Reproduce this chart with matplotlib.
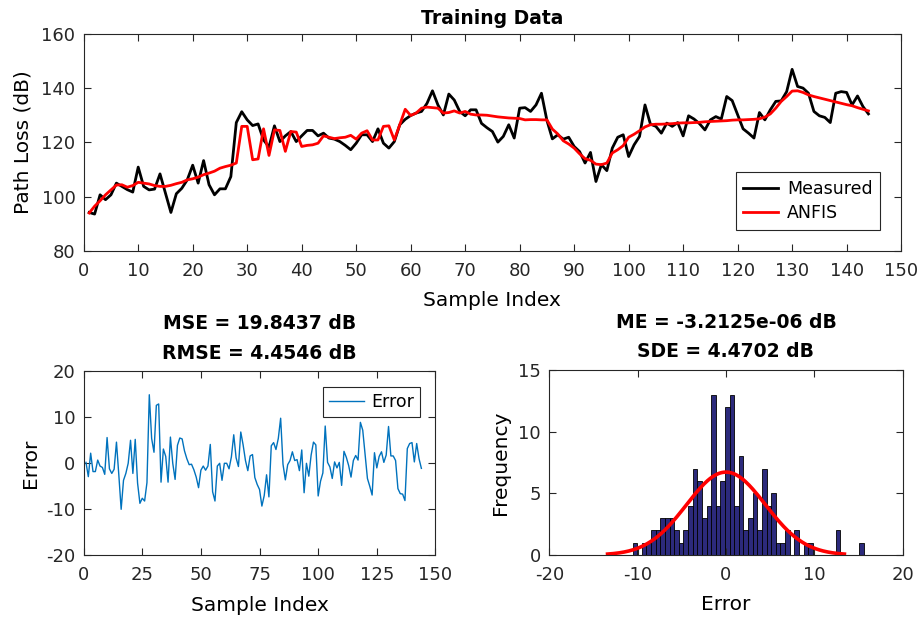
import numpy as np
import matplotlib
matplotlib.use('Agg')
import matplotlib.pyplot as plt

plt.rcParams['font.family'] = ['DejaVu Sans']
plt.rcParams['axes.unicode_minus'] = False
plt.rcParams['axes.edgecolor'] = '#262626'
plt.rcParams['xtick.color'] = '#262626'
plt.rcParams['ytick.color'] = '#262626'

# measured path loss and ANFIS output for the 144 training samples (dB)
measured = [94.2, 93.6, 100.7, 98.9, 100.7, 105.0, 103.8, 102.6, 101.7, 110.9,
            103.8, 102.5, 102.8, 108.4, 101.3, 94.2, 101.1, 103.1, 106.2, 111.6,
            105.0, 113.3, 104.4, 100.7, 102.9, 102.9, 107.4, 127.3, 131.3, 128.3,
            126.2, 126.8, 120.9, 118.3, 126.1, 120.3, 122.4, 124.0, 120.3, 122.4,
            124.4, 124.4, 122.4, 123.4, 121.6, 121.2, 120.3, 118.9, 117.3, 119.7,
            122.8, 122.8, 120.3, 125.0, 119.7, 117.9, 120.3, 126.5, 128.5, 129.9,
            130.8, 131.4, 134.4, 139.0, 133.8, 130.1, 137.8, 135.6, 131.4, 129.8,
            132.0, 132.0, 127.0, 125.4, 124.0, 120.1, 122.2, 126.5, 121.6, 132.6,
            132.8, 131.4, 133.8, 138.1, 128.1, 121.3, 122.8, 121.2, 121.9, 118.5,
            116.6, 112.4, 116.3, 105.6, 111.8, 109.6, 117.9, 121.9, 122.8, 114.8,
            119.1, 122.2, 133.8, 126.7, 125.9, 123.4, 127.1, 125.9, 127.3, 122.4,
            129.8, 128.6, 126.9, 124.6, 128.3, 129.5, 128.6, 136.9, 135.4, 130.2,
            125.0, 123.4, 121.6, 131.0, 128.3, 132.0, 135.1, 135.3, 138.7, 146.9,
            140.6, 140.0, 138.1, 131.4, 129.8, 129.2, 127.3, 138.1, 138.7, 138.4,
            133.8, 137.1, 133.2, 130.5]

anfis = [94.0, 96.5, 98.5, 100.7, 102.5, 104.3, 104.4, 103.5, 104.1, 105.3,
         105.0, 104.7, 104.1, 103.8, 103.8, 104.2, 104.8, 105.3, 106.2, 106.6,
         107.2, 108.1, 108.7, 109.4, 110.5, 111.1, 111.6, 112.4, 125.9, 125.9,
         113.6, 113.9, 125.0, 115.2, 124.6, 124.4, 116.7, 124.0, 123.8, 118.5,
         118.9, 119.1, 119.7, 122.4, 121.9, 121.4, 121.7, 121.9, 122.6, 121.2,
         123.4, 124.3, 120.9, 120.9, 125.9, 126.1, 120.9, 126.5, 132.2, 129.9,
         130.8, 132.6, 133.0, 132.8, 132.6, 130.8, 131.0, 131.6, 130.8, 131.4,
         130.4, 130.1, 130.1, 130.0, 129.7, 129.4, 129.2, 129.0, 128.9, 128.8,
         128.3, 128.4, 128.4, 128.3, 128.3, 124.9, 123.1, 120.6, 119.4, 117.9,
         115.8, 114.0, 113.4, 112.0, 111.8, 112.4, 116.1, 117.3, 118.8, 121.9,
         123.0, 124.3, 125.7, 126.5, 126.7, 126.7, 126.8, 126.9, 127.1, 127.2,
         127.2, 127.3, 127.4, 127.6, 127.7, 127.8, 127.9, 128.0, 128.2, 128.3,
         128.3, 128.4, 128.5, 128.7, 129.3, 130.5, 132.6, 135.1, 136.9, 138.9,
         139.0, 138.4, 137.5, 136.9, 136.4, 135.9, 135.4, 134.9, 134.4, 133.9,
         133.5, 132.8, 132.2, 131.6]

# error histogram: 50 bins
hist_start = -10.57
hist_width = 0.523
hist_counts = [1, 0, 1, 1, 2, 2, 3, 3, 3, 2,
               1, 2, 4, 7, 6, 3, 4, 13, 4, 6,
               12, 13, 4, 8, 2, 3, 5, 2, 7, 4,
               5, 1, 1, 2, 0, 2, 0, 1, 1, 0,
               0, 0, 0, 0, 2, 0, 0, 0, 0, 1]

err_mean = -3.2125e-06
err_std = 4.4702

measured = np.array(measured)
anfis = np.array(anfis)
idx = np.arange(1, len(measured) + 1)
err = measured - anfis

fig = plt.figure(figsize=(9.21, 6.21), dpi=100)

tick_fs = 13
label_fs = 14.5
title_fs = 13.5


def style(ax):
    ax.tick_params(direction='in', length=5, width=0.8, labelsize=tick_fs,
                   top=True, right=True, pad=6)
    ax.tick_params(axis='x', pad=8)
    for s in ax.spines.values():
        s.set_linewidth(0.8)


# top: measured vs ANFIS
ax1 = fig.add_axes([0.0909, 0.5958, 0.8875, 0.3498])
ax1.plot(idx, measured, color='black', lw=2, label='Measured')
ax1.plot(idx, anfis, color='red', lw=2, label='ANFIS')
ax1.set_xlim(0, 150)
ax1.set_ylim(80, 160)
ax1.set_xticks(np.arange(0, 151, 10))
ax1.set_yticks(np.arange(80, 161, 20))
ax1.set_xlabel('Sample Index', fontsize=label_fs, labelpad=8)
ax1.set_ylabel('Path Loss (dB)', fontsize=label_fs, labelpad=6)
ax1.set_title('Training Data', fontsize=title_fs, fontweight='bold', pad=7)
leg = ax1.legend(loc='lower right', fontsize=12.5, fancybox=False,
                 edgecolor='#262626', framealpha=1, borderaxespad=1.2,
                 handlelength=2.0, borderpad=0.45, labelspacing=0.35,
                 handletextpad=0.5)
leg.get_frame().set_linewidth(0.8)
style(ax1)

# bottom left: error per sample
ax2 = fig.add_axes([0.0908, 0.1058, 0.382, 0.2963])
ax2.plot(idx, err, color='#0072BD', lw=1.0, label='Error')
ax2.set_xlim(0, 150)
ax2.set_ylim(-20, 20)
ax2.set_xticks(np.arange(0, 151, 25))
ax2.set_yticks(np.arange(-20, 21, 10))
ax2.set_xlabel('Sample Index', fontsize=label_fs, labelpad=8)
ax2.set_ylabel('Error', fontsize=label_fs, labelpad=4)
ax2.set_title('MSE = 19.8437 dB\nRMSE = 4.4546 dB', fontsize=title_fs,
              fontweight='bold', pad=9, linespacing=1.7)
leg2 = ax2.legend(loc='upper right', fontsize=12.5, fancybox=False,
                  edgecolor='#262626', framealpha=1, borderaxespad=0.9,
                  handlelength=2.0, borderpad=0.35, handletextpad=0.4)
leg2.get_frame().set_linewidth(0.8)
style(ax2)

# bottom right: error histogram with normal fit
ax3 = fig.add_axes([0.5965, 0.1063, 0.3835, 0.2979])
edges = hist_start + hist_width * np.arange(len(hist_counts))
ax3.bar(edges, hist_counts, width=hist_width, align='edge',
        color='#2C2A7C', edgecolor='black', linewidth=0.6)
xs = np.linspace(err_mean - 3 * err_std, err_mean + 3 * err_std, 200)
pdf = np.exp(-0.5 * ((xs - err_mean) / err_std) ** 2) / (err_std * np.sqrt(2 * np.pi))
ax3.plot(xs, sum(hist_counts) * hist_width * pdf, color='red', lw=2.6)
ax3.set_xlim(-20, 20)
ax3.set_ylim(0, 15)
ax3.set_xticks(np.arange(-20, 21, 10))
ax3.set_yticks(np.arange(0, 16, 5))
ax3.set_xlabel('Error', fontsize=label_fs, labelpad=8)
ax3.set_ylabel('Frequency', fontsize=label_fs, labelpad=6)
ax3.set_title('ME = -3.2125e-06 dB\nSDE = 4.4702 dB', fontsize=title_fs,
              fontweight='bold', pad=9, linespacing=1.7)
style(ax3)

fig.savefig('out.png', dpi=100)
